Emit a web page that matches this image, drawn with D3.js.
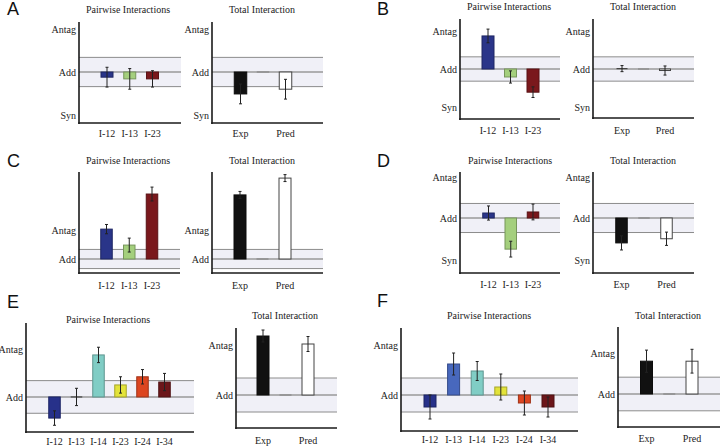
<!DOCTYPE html>
<html><head><meta charset="utf-8">
<script src="https://cdn.jsdelivr.net/npm/d3@7"></script>
<style>
html,body{margin:0;padding:0;background:#fff;}
svg{display:block;}
.serif{font-family:"Liberation Serif","Times New Roman",serif;font-size:10px;fill:#222;}
.letter{font-family:"Liberation Sans",Arial,sans-serif;font-size:18px;fill:#111;}
</style>
</head><body>
<svg id="chart" width="721" height="446"></svg>
<script>
// ---------- DATA ----------
// y units: Add = 0, Antag = +1, Syn = -1 (per-panel scale)
const panelLetters = ["A", "B", "C", "D", "E", "F"];
const pairCats3 = ["I-12", "I-13", "I-23"];
const pairCats6 = ["I-12", "I-13", "I-14", "I-23", "I-24", "I-34"];
const totalCats = ["Exp", "mid", "Pred"];
const totalLabels = ["Exp", "", "Pred"];
const tickNames3 = ["Antag", "Add", "Syn"];
const tickVals3 = [1, 0, -1];
const tickNames2 = ["Antag", "Add"];
const tickVals2 = [1, 0];

const pairColors3 = ["#2a3589", "#a4cf7d", "#7a181c"];
const pairColorsE = ["#27318a", "#555555", "#80cdc5", "#e3e33a", "#dc4520", "#6c161a"];
const pairColorsF = ["#27318a", "#4868bd", "#80cdc5", "#e3e33a", "#dc4520", "#6c161a"];
const totalColors = ["#111111", "#999999", "#ffffff"];

// Pairwise interaction values and errors
const pairA = [-0.12, -0.16, -0.16];   const pairErrA = [0.23, 0.24, 0.19];
const pairB = [0.87, -0.21, -0.61];    const pairErrB = [0.18, 0.16, 0.14];
const pairC = [1.03, 0.48, 2.24];      const pairErrC = [0.16, 0.24, 0.24];
const pairD = [0.12, -0.75, 0.145];    const pairErrD = [0.17, 0.19, 0.19];
const pairE = [-0.44, 0, 0.875, 0.25, 0.42, 0.31]; const pairErrE = [0.15, 0.18, 0.16, 0.17, 0.15, 0.18];
const pairF = [-0.24, 0.62, 0.48, 0.16, -0.16, -0.24]; const pairErrF = [0.24, 0.22, 0.19, 0.26, 0.24, 0.2];

// Total interaction values (Exp, mid, Pred) and errors
const totalA = [-0.51, 0, -0.40];  const totalErrA = [0.23, 0, 0.23];
const totalB = [0.01, 0, -0.04];   const totalErrB = [0.08, 0, 0.12];
const totalC = [2.21, 0, 2.79];    const totalErrC = [0.12, 0, 0.12];
const totalD = [-0.6, 0, -0.5];    const totalErrD = [0.17, 0, 0.16];
const totalE = [1.18, 0, 1.02];    const totalErrE = [0.12, 0, 0.15];
const totalF = [0.8, 0, 0.8];      const totalErrF = [0.27, 0, 0.29];

// Additivity band half-widths
const bandPair = [0.34, 0.32, 0.33, 0.35, 0.34, 0.34];
const bandTotal = [0.34, 0.32, 0.33, 0.35, 0.34, 0.41];

// ---------- LAYOUT ----------
const svg = d3.select("#chart");

const subplots = [
  // A
  {cats: pairCats3, labels: pairCats3, vals: pairA, errs: pairErrA, colors: pairColors3, band: bandPair[0],
   tickN: tickNames3, tickV: tickVals3, ax: 79, top: 22, bottom: 123, right: 181, c0: 107, c1: 152.5, bw: 12,
   dom: [-1.186, 1.163], title: "Pairwise Interactions", tx: 128, ty: 12.5, ly: 136.5},
  {cats: totalCats, labels: totalLabels, vals: totalA, errs: totalErrA, colors: totalColors, band: bandTotal[0],
   tickN: tickNames3, tickV: tickVals3, ax: 212, top: 22, bottom: 123, right: 323, c0: 240.5, c1: 285.5, bw: 12.5,
   dom: [-1.186, 1.163], title: "Total Interaction", tx: 262, ty: 12.5, ly: 136.5},
  // B
  {cats: pairCats3, labels: pairCats3, vals: pairB, errs: pairErrB, colors: pairColors3, band: bandPair[1],
   tickN: tickNames3, tickV: tickVals3, ax: 460, top: 19, bottom: 119, right: 560, c0: 488, c1: 533, bw: 12,
   dom: [-1.316, 1.316], title: "Pairwise Interactions", tx: 509, ty: 9.5, ly: 133.5},
  {cats: totalCats, labels: totalLabels, vals: totalB, errs: totalErrB, colors: totalColors, band: bandTotal[1],
   tickN: tickNames3, tickV: tickVals3, ax: 593, top: 19, bottom: 118, right: 694, c0: 622, c1: 665, bw: 11,
   dom: [-1.29, 1.316], title: "Total Interaction", tx: 643, ty: 9.5, ly: 133.5},
  // C
  {cats: pairCats3, labels: pairCats3, vals: pairC, errs: pairErrC, colors: pairColors3, band: bandPair[2],
   tickN: tickNames2, tickV: tickVals2, ax: 79, top: 172, bottom: 273, right: 180, c0: 106.5, c1: 152, bw: 11.5,
   dom: [-0.483, 3.0], title: "Pairwise Interactions", tx: 128, ty: 163.5, ly: 288.5},
  {cats: totalCats, labels: totalLabels, vals: totalC, errs: totalErrC, colors: totalColors, band: bandTotal[2],
   tickN: tickNames2, tickV: tickVals2, ax: 212, top: 172, bottom: 273, right: 323, c0: 240, c1: 285, bw: 12,
   dom: [-0.483, 3.0], title: "Total Interaction", tx: 262, ty: 163.5, ly: 288.5},
  // D
  {cats: pairCats3, labels: pairCats3, vals: pairD, errs: pairErrD, colors: pairColors3, band: bandPair[3],
   tickN: tickNames3, tickV: tickVals3, ax: 460, top: 172, bottom: 273, right: 560, c0: 488.5, c1: 533, bw: 11.5,
   dom: [-1.325, 1.108], title: "Pairwise Interactions", tx: 510, ty: 163.5, ly: 287.5},
  {cats: totalCats, labels: totalLabels, vals: totalD, errs: totalErrD, colors: totalColors, band: bandTotal[3],
   tickN: tickNames3, tickV: tickVals3, ax: 593, top: 172, bottom: 273, right: 694, c0: 621.5, c1: 666.5, bw: 11.5,
   dom: [-1.325, 1.108], title: "Total Interaction", tx: 643, ty: 163.5, ly: 287.5},
  // E
  {cats: pairCats6, labels: pairCats6, vals: pairE, errs: pairErrE, colors: pairColorsE, band: bandPair[4],
   tickN: tickNames2, tickV: tickVals2, ax: 26, top: 323, bottom: 432, right: 194, c0: 54.5, c1: 164.5, bw: 11.5,
   dom: [-0.73, 1.54], title: "Pairwise Interactions", tx: 108, ty: 322.5, ly: 444.5},
  {cats: totalCats, labels: totalLabels, vals: totalE, errs: totalErrE, colors: totalColors, band: bandTotal[4],
   tickN: tickNames2, tickV: tickVals2, ax: 236, top: 328, bottom: 428, right: 337, c0: 263, c1: 308, bw: 12,
   dom: [-0.66, 1.34], title: "Total Interaction", tx: 285, ty: 318.5, ly: 443.5},
  // F
  {cats: pairCats6, labels: pairCats6, vals: pairF, errs: pairErrF, colors: pairColorsF, band: bandPair[5],
   tickN: tickNames2, tickV: tickVals2, ax: 401, top: 328, bottom: 431, right: 578, c0: 430, c1: 548, bw: 12,
   dom: [-0.72, 1.34], title: "Pairwise Interactions", tx: 489, ty: 318.5, ly: 442.5},
  {cats: totalCats, labels: totalLabels, vals: totalF, errs: totalErrF, colors: totalColors, band: bandTotal[5],
   tickN: tickNames2, tickV: tickVals2, ax: 618, top: 327, bottom: 427, right: 720, c0: 646.5, c1: 692, bw: 12,
   dom: [-0.805, 1.634], title: "Total Interaction", tx: 668, ty: 318.5, ly: 441.5}
];

const letterPos = [[7, 15], [377, 15], [7, 167], [377, 167], [7, 308], [377, 307]];

panelLetters.forEach((L, i) => {
  svg.append("text").attr("class", "letter").attr("x", letterPos[i][0]).attr("y", letterPos[i][1]).text(L);
});

function drawSub(s) {
  const g = svg.append("g");
  const y = d3.scaleLinear().domain(s.dom).range([s.bottom, s.top]);
  const x = d3.scalePoint().domain(s.cats).range([s.c0, s.c1]);

  // band
  g.append("rect").attr("x", s.ax).attr("width", s.right - s.ax)
    .attr("y", y(s.band)).attr("height", y(-s.band) - y(s.band)).attr("fill", "#f0f0f7");
  [s.band, -s.band].forEach(v => {
    g.append("line").attr("x1", s.ax).attr("x2", s.right).attr("y1", y(v)).attr("y2", y(v))
      .attr("stroke", "#8c8c8c").attr("stroke-width", 1);
  });
  g.append("line").attr("x1", s.ax).attr("x2", s.right).attr("y1", y(0)).attr("y2", y(0))
    .attr("stroke", "#9a9a9a").attr("stroke-width", 1.5);

  // bars
  s.cats.forEach((c, i) => {
    const v = s.vals[i], col = s.colors[i];
    const cx = x(c);
    if (Math.abs(y(v) - y(0)) < 1) {
      g.append("line").attr("x1", cx - s.bw / 2).attr("x2", cx + s.bw / 2)
        .attr("y1", y(v)).attr("y2", y(v))
        .attr("stroke", c === "mid" ? "#888" : "#444").attr("stroke-width", 1.2);
    } else {
      const stroke = col === "#ffffff" ? "#444" : d3.color(col).darker(0.9).formatHex();
      g.append("rect").attr("x", cx - s.bw / 2).attr("width", s.bw)
        .attr("y", Math.min(y(v), y(0))).attr("height", Math.abs(y(v) - y(0)))
        .attr("fill", col).attr("stroke", stroke).attr("stroke-width", 1);
    }
    const e = s.errs[i];
    if (e > 0) {
      const y1 = y(v + e), y2 = y(v - e);
      g.append("line").attr("x1", cx).attr("x2", cx).attr("y1", y1).attr("y2", y2)
        .attr("stroke", "#222").attr("stroke-width", 1);
      [y1, y2].forEach(yy => g.append("line").attr("x1", cx - 1.5).attr("x2", cx + 1.5)
        .attr("y1", yy).attr("y2", yy).attr("stroke", "#222").attr("stroke-width", 1));
    }
  });

  // axes
  g.append("line").attr("x1", s.ax).attr("x2", s.ax).attr("y1", s.top).attr("y2", s.bottom + 1)
    .attr("stroke", "#1a1a1a").attr("stroke-width", 1.6);
  g.append("line").attr("x1", s.ax - 0.8).attr("x2", s.right).attr("y1", s.bottom).attr("y2", s.bottom)
    .attr("stroke", "#1a1a1a").attr("stroke-width", 1.6);

  // y tick labels
  s.tickV.forEach((v, i) => {
    g.append("text").attr("class", "serif").attr("x", s.ax - 3).attr("y", y(v)).attr("dy", "0.42em")
      .attr("text-anchor", "end").text(s.tickN[i]);
  });
  // x labels
  s.cats.forEach((c, i) => {
    if (!s.labels[i]) return;
    g.append("text").attr("class", "serif").attr("x", x(c)).attr("y", s.ly)
      .attr("text-anchor", "middle").text(s.labels[i]);
  });
  // title
  g.append("text").attr("class", "serif").attr("x", s.tx).attr("y", s.ty)
    .attr("text-anchor", "middle").text(s.title);
}

subplots.forEach(drawSub);
</script>
</body></html>
